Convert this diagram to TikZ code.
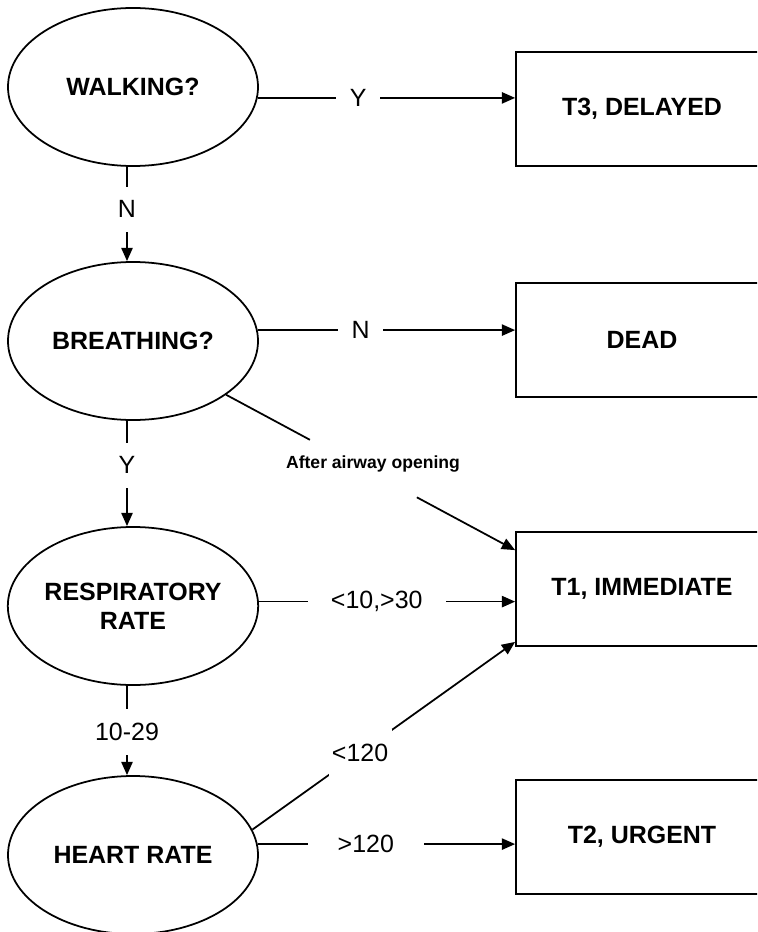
\documentclass[tikz,border=0pt]{standalone}
\usepackage{fontspec}
\setmainfont{Liberation Sans}
\usetikzlibrary{arrows.meta,shapes.geometric}

\begin{document}
\begin{tikzpicture}[
        x=0.03cm,y=-0.03cm,
        question/.style={ellipse,draw,line width=1.5pt,inner sep=0pt,minimum width=7.5cm,minimum height=4.74cm,align=center,font=\fontsize{21.3}{25}\selectfont\bfseries},
        outcome/.style={rectangle,draw,line width=1.5pt,minimum width=7.56cm,minimum height=3.42cm,font=\fontsize{21.3}{25}\selectfont\bfseries},
        arrow/.style={-{Triangle[length=0.4cm,width=0.34cm]},line width=1.5pt},
        wire/.style={line width=1.5pt},
        cond/.style={fill=white,inner xsep=0.4cm,inner ysep=0.42cm,font=\fontsize{21.3}{25}\selectfont},
    ]
    \useasboundingbox (0,0) rectangle (757,932);
    \clip (0,0) rectangle (757,932);

    % === LEFT: questions ===
    \node[question] (walk) at (133,87) {WALKING?};
    \node[question] (breath) at (133,341) {BREATHING?};
    \node[question] (resp) at (133,606) {RESPIRATORY\\RATE};
    \node[question] (heart) at (133,855) {HEART RATE};

    % === RIGHT: outcomes ===
    \node[outcome] (t3) at (642,109) {T3, DELAYED};
    \node[outcome] (dead) at (642,340) {DEAD};
    \node[outcome] (t1) at (642,589) {T1, IMMEDIATE};
    \node[outcome] (t2) at (642,837) {T2, URGENT};

    % down the questions
    \draw[arrow] ([xshift=-0.18cm]walk.south) -- node[cond,pos=0.45]{N} ([xshift=-0.18cm]breath.north);
    \draw[arrow] ([xshift=-0.18cm]breath.south) -- node[cond,pos=0.42]{Y} ([xshift=-0.18cm]resp.north);
    \draw[arrow] ([xshift=-0.18cm]resp.south) -- node[cond,pos=0.52]{10-29} ([xshift=-0.18cm]heart.north);

    % across to the outcomes
    \draw[arrow] (walk.-5) -- node[cond,pos=0.39]{Y} (walk.-5 -| t3.west);
    \draw[arrow] (breath.5) -- node[cond,pos=0.40]{N} (breath.5 -| dead.west);
    \draw[arrow] (resp.2) -- node[cond,pos=0.46,inner xsep=0.69cm]{<10,>30} (resp.2 -| t1.west);
    \draw[arrow] (heart.5) -- node[cond,pos=0.42,inner xsep=0.9cm]{>120} (heart.5 -| t2.west);
    \draw[arrow] (heart.12) -- node[cond,pos=0.41,inner xsep=0.1cm,inner ysep=0.44cm]{<120} ([yshift=0.15cm]t1.south west);

    % airway line with its note
    \coordinate (t1in) at ([yshift=-0.57cm]t1.north west);
    \path (breath.-30) -- coordinate[pos=0.29] (gapa) coordinate[pos=0.66] (gapb) (t1in);
    \draw[wire] (breath.-30) -- (gapa);
    \draw[arrow] (gapb) -- (t1in);
    \node[font=\fontsize{15}{18}\selectfont\bfseries] (airway) at (373,464) {After airway opening};
\end{tikzpicture}
\end{document}
